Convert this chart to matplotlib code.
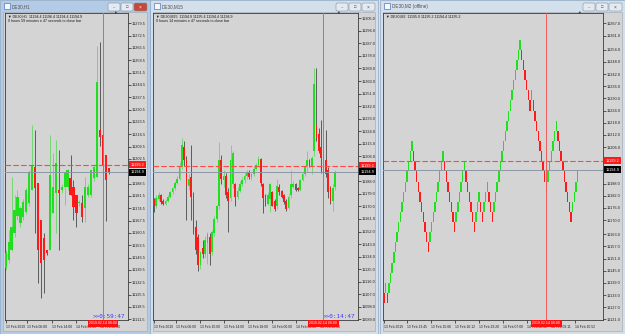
import matplotlib.pyplot as plt
from matplotlib.patches import Rectangle, FancyBboxPatch

W, H = 625, 334
plt.rcParams['font.family'] = ['Liberation Sans', 'DejaVu Sans']

GREEN = '#1fe01f'
RED = '#ff1a1a'
BG = '#d4d4d4'

# ---- DE30,H1 candles ----
h1_open = [11140.4, 11145.2, 11150.8, 11160.3, 11170.0, 11166.0, 11169.8, 11172.6, 11177.3, 11184.9,
           11198.1, 11188.7, 11167.9, 11157.5, 11150.8, 11150.8, 11171.6, 11183.0, 11184.9, 11184.9,
           11186.8, 11186.8, 11191.5, 11186.8, 11182.1, 11177.3, 11177.3, 11174.5, 11182.1, 11182.1,
           11191.5, 11192.5, 11218.9, 11216.1, 11204.8, 11197.2]
h1_high = [11150.8, 11162.2, 11192.5, 11182.1, 11185.0, 11176.0, 11180.0, 11186.0, 11196.0, 11221.8,
           11218.9, 11188.7, 11168.0, 11160.3, 11151.0, 11216.1, 11205.7, 11213.3, 11207.6, 11188.0,
           11195.3, 11197.0, 11204.8, 11190.6, 11182.1, 11179.0, 11182.1, 11192.5, 11188.0, 11196.2,
           11199.0, 11266.3, 11269.1, 11226.5, 11204.8, 11197.2]
h1_low = [11139.5, 11143.3, 11150.0, 11158.4, 11168.0, 11164.0, 11168.0, 11171.0, 11176.0, 11184.9,
          11160.3, 11131.9, 11123.4, 11126.3, 11148.0, 11150.8, 11171.6, 11160.3, 11150.8, 11183.0,
          11176.4, 11185.0, 11182.1, 11167.9, 11164.1, 11176.0, 11166.9, 11166.9, 11181.0, 11181.1,
          11190.0, 11192.5, 11210.0, 11188.7, 11167.0, 11194.0]
h1_close = [11148.9, 11155.6, 11164.1, 11173.5, 11181.1, 11174.5, 11178.3, 11184.9, 11194.4, 11199.1,
            11185.9, 11150.8, 11143.3, 11145.2, 11149.0, 11193.4, 11186.8, 11200.0, 11183.0, 11186.8,
            11194.4, 11196.2, 11182.1, 11175.4, 11171.6, 11178.3, 11169.8, 11186.8, 11186.8, 11196.2,
            11198.1, 11246.4, 11215.2, 11199.1, 11190.6, 11194.9]

# ---- DE30,M15 candles ----
m15_open = [11174.5, 11170, 11175, 11178, 11174, 11172, 11174, 11177, 11180, 11183,
            11187, 11190, 11199, 11213, 11203, 11185, 11191, 11177, 11155, 11148,
            11128, 11140, 11136, 11144, 11148, 11137, 11151, 11161, 11170, 11203,
            11189, 11192, 11180, 11176, 11186, 11186, 11177, 11181, 11186, 11189,
            11192, 11194, 11191, 11193, 11197, 11200, 11204, 11186, 11177, 11172,
            11175, 11180, 11174, 11170, 11184, 11181, 11178, 11174, 11169, 11178,
            11184, 11186, 11183, 11182, 11189, 11193, 11199, 11203, 11198, 11210,
            11228, 11222, 11213, 11208, 11203, 11196, 11183, 11174, 11184]
m15_high = [11176, 11178, 11180, 11179, 11175, 11175, 11178, 11181, 11184, 11188,
            11192, 11202, 11219, 11217, 11206, 11193, 11214, 11180, 11160, 11150,
            11138, 11146, 11149, 11152, 11151, 11153, 11163, 11171, 11216, 11207,
            11196, 11194, 11183, 11214, 11210, 11187, 11184, 11188, 11191, 11194,
            11196, 11196, 11194, 11199, 11201, 11206, 11205, 11187, 11179, 11180,
            11187, 11181, 11175, 11190, 11186, 11182, 11179, 11175, 11179, 11196,
            11188, 11187, 11184, 11190, 11194, 11200, 11210, 11204, 11206, 11269,
            11269, 11226, 11232, 11211, 11225, 11198, 11185, 11186, 11196]
m15_low = [11166, 11169, 11174, 11172, 11171, 11171, 11173, 11176, 11179, 11182,
           11186, 11189, 11197, 11199, 11160, 11182, 11160, 11150, 11136, 11124,
           11125, 11133, 11134, 11129, 11128, 11135, 11149, 11159, 11168, 11186,
           11184, 11176, 11152, 11174, 11183, 11170, 11175, 11180, 11185, 11187,
           11190, 11190, 11189, 11192, 11196, 11199, 11185, 11165, 11170, 11171,
           11166, 11170, 11167, 11168, 11178, 11176, 11172, 11167, 11168, 11176,
           11183, 11181, 11181, 11181, 11188, 11192, 11195, 11198, 11193, 11206,
           11217, 11208, 11194, 11182, 11191, 11176, 11172, 11167, 11182]
m15_close = [11170, 11176, 11178, 11173, 11172, 11174, 11177, 11180, 11183, 11187,
             11190, 11199, 11214, 11203, 11185, 11190, 11177, 11151, 11139, 11128,
             11137, 11136, 11146, 11150, 11136, 11152, 11161, 11170, 11203, 11190,
             11192, 11178, 11174, 11203, 11208, 11177, 11181, 11186, 11189, 11192,
             11194, 11191, 11193, 11197, 11200, 11204, 11187, 11176, 11172, 11178,
             11186, 11170, 11168, 11185, 11180, 11177, 11173, 11168, 11177, 11186,
             11186, 11182, 11182, 11189, 11193, 11199, 11203, 11199, 11205, 11258,
             11219, 11210, 11205, 11200, 11193, 11180, 11174, 11183, 11195]

# ---- DE30,M2 (offline) renko bricks: close of each brick ----
renko_brick = 5
renko_prev = 11134
renko_close = [11129, 11139, 11129, 11139, 11144, 11149, 11154, 11159, 11164, 11169, 11174, 11179,
               11184, 11189, 11194, 11199, 11204, 11209,
               11199, 11194, 11189, 11184, 11179, 11174, 11169, 11164, 11159, 11154,
               11164, 11169, 11174, 11179, 11184, 11189, 11194, 11199, 11204,
               11194, 11189, 11184, 11179, 11174, 11169, 11164,
               11174, 11179, 11184, 11189, 11194, 11199,
               11189, 11184, 11179, 11174, 11169, 11164,
               11174, 11179, 11184,
               11174, 11169,
               11179, 11184, 11189,
               11179, 11174, 11169,
               11179, 11184, 11189, 11194, 11199, 11204, 11209, 11214, 11219, 11224, 11229,
               11234, 11239, 11244, 11249, 11254, 11259,
               11249, 11244, 11239, 11234, 11229, 11224,
               11234,
               11224, 11219, 11214, 11209, 11204, 11199, 11194, 11189, 11184,
               11194, 11199, 11204, 11209, 11214, 11219,
               11209, 11204, 11199, 11194, 11189, 11184, 11179, 11174, 11169,
               11179, 11184, 11189, 11194]

# price scale labels
h1_ticks = [11279.5, 11272.5, 11265.5, 11258.5, 11251.5, 11244.5, 11237.5, 11230.5, 11223.5, 11216.5,
            11209.5, 11202.5, 11188.5, 11181.5, 11174.5, 11167.5, 11160.5, 11153.5, 11146.5, 11139.5,
            11132.5, 11125.5, 11118.5, 11111.5]
m15_ticks = [11305.0, 11296.0, 11287.0, 11278.0, 11269.0, 11260.0, 11251.0, 11242.0, 11233.0, 11224.0,
             11215.0, 11206.0, 11188.0, 11179.0, 11170.0, 11161.0, 11152.0, 11143.0, 11134.0, 11125.0,
             11116.0, 11107.0, 11098.0, 11089.0]
m2_ticks = [11267.0, 11261.0, 11254.0, 11248.0, 11242.0, 11236.0, 11230.0, 11224.0, 11218.0, 11212.0,
            11206.0, 11188.0, 11182.0, 11176.0, 11170.0, 11163.0, 11157.0, 11151.0, 11145.0, 11139.0,
            11133.0, 11127.0, 11121.0]

# time scale labels (bar index where label starts)
h1_time_pos = [0, 7.2, 15.7, 23.8, 32]
h1_time_lbl = ['13 Feb 2019', '13 Feb 06:00', '13 Feb 14:00', '14 Feb 00:00', '14 Feb 08:00']
m15_time_pos = [0, 9.5, 19.8, 30.2, 40.5, 50.9, 61.2, 71.6]
m15_time_lbl = ['13 Feb 2019', '13 Feb 06:00', '13 Feb 10:00', '13 Feb 14:00', '13 Feb 18:00',
                '14 Feb 00:00', '14 Feb 04:00', '14 Feb 08:00']
m2_time_pos = [0, 14.0, 28.7, 43.3, 57.9, 72.6, 87.2, 101.8, 116.5]
m2_time_lbl = ['13 Feb 2019', '13 Feb 13:45', '13 Feb 15:06', '13 Feb 16:12', '13 Feb 23:20',
               '14 Feb 07:00', '14 Feb 08:02', '14 Feb 09:11', '14 Feb 10:52']

ask_line = 11199.2
bid_line = 11194.9

fig = plt.figure(figsize=(W / 100, H / 100), dpi=100)
fig.patch.set_facecolor('#d6e1ec')
bg = fig.add_axes([0, 0, 1, 1])
bg.set_xlim(0, W)
bg.set_ylim(H, 0)
bg.axis('off')


def draw_window(x0, x1, title, active):
    frame = '#b3cbe6' if active else '#d3dfeb'
    bg.add_patch(Rectangle((x0, 0), x1 - x0, H, fc=frame, ec='#8fa6c2', lw=0.5))
    bg.add_patch(Rectangle((x0 + 3, 12), x1 - x0 - 6, H - 15, fc=BG, ec='#9aa6b2', lw=0.4))
    bg.add_patch(Rectangle((x0 + 3.5, 3), 6, 6, fc='#f4f8fc', ec='#4f7bb8', lw=0.5))
    bg.text(x0 + 12, 6.5, title, fontsize=3.3, color='#505050', va='center')
    for bx, bw in [(x1 - 42, 12), (x1 - 29, 12), (x1 - 16, 13)]:
        fc = '#c8473b' if (active and bw == 13) else '#e4eaf1'
        bg.add_patch(FancyBboxPatch((bx, 3), bw, 8, boxstyle='round,pad=0,rounding_size=1.5',
                                    fc=fc, ec='#7f8fa3', lw=0.4))
    mk = '#ffffff' if active else '#4a4a4a'
    bg.text(x1 - 36, 7.5, '–', fontsize=3, ha='center', va='center', color='#4a4a4a')
    bg.text(x1 - 23, 7, '□', fontsize=3, ha='center', va='center', color='#4a4a4a')
    bg.text(x1 - 9.5, 7, '×', fontsize=3.5, ha='center', va='center', color=mk)


def chart_axes(x0, x1, xlim, ylim):
    ax = fig.add_axes([x0 / W, 1 - 320 / H, (x1 - x0) / W, (320 - 13) / H])
    ax.set_facecolor(BG)
    ax.set_xlim(*xlim)
    ax.set_ylim(*ylim)
    for s in ax.spines.values():
        s.set_color('#3a3a3a')
        s.set_linewidth(0.6)
    return ax


def price_scale(ax, ticks):
    ax.yaxis.tick_right()
    ax.set_yticks(ticks)
    ax.set_yticklabels([f'{t:.1f}' for t in ticks])
    ax.tick_params(axis='y', direction='out', length=2, width=0.5, pad=1,
                   labelsize=2.8, colors='#202020')


def time_scale(ax, pos, labels):
    ax.set_xticks(pos)
    ax.set_xticklabels(labels)
    for lbl in ax.get_xticklabels():
        lbl.set_ha('left')
    ax.tick_params(axis='x', direction='out', length=2.5, width=0.5, pad=0.8,
                   labelsize=2.4, colors='#202020')


def draw_candles(ax, o, h, l, c, width):
    x = range(len(o))
    up = [cc >= oo for oo, cc in zip(o, c)]
    ax.vlines(x, l, h, colors=['#59d859' if u else '#3c3c3c' for u in up], lw=0.55, zorder=2)
    ax.bar(x, [max(abs(cc - oo), 0.7) for oo, cc in zip(o, c)],
           bottom=[min(oo, cc) for oo, cc in zip(o, c)], width=width,
           color=[GREEN if u else RED for u in up], lw=0, zorder=3)


def draw_renko(ax, closes, prev, brick, width):
    opens, cols = [], []
    for cl in closes:
        up = cl > prev
        opens.append(cl - brick if up else cl + brick)
        cols.append(GREEN if up else RED)
        prev = cl
    ax.bar(range(len(closes)), [c - o for o, c in zip(opens, closes)], bottom=opens,
           width=width, color=cols, lw=0, zorder=3)


def overlays(ax, vx, header, countdown, ask_txt, bid_txt, vtime, shift):
    ax.axhline(ask_line, color='#ff4a4a', lw=0.8, ls=(0, (5, 2)), zorder=4)
    ax.axhline(bid_line, color='#8c98a4', lw=0.7, zorder=4)
    ax.axvline(vx, color='#f05a5a', lw=0.7, zorder=4)
    for j, line in enumerate(header):
        ax.annotate(line, xy=(0, 1), xycoords='axes fraction', xytext=(3, -1.5 - 5 * j),
                    textcoords='offset pixels', fontsize=2.6, va='top', ha='left', color='#151515')
    ax.annotate('▼', xy=(shift, 1), xycoords='axes fraction', ha='center', va='center',
                fontsize=2.6, color='#303030', annotation_clip=False)
    if countdown:
        ax.annotate(countdown, xy=(1, 0), xycoords='axes fraction', xytext=(-3, 1.5),
                    textcoords='offset pixels', ha='right', va='bottom', fontsize=4.3,
                    family='DejaVu Sans Mono', color='#3c3cff')
    for txt, val, fc in [(ask_txt, ask_line, '#ff1a1a'), (bid_txt, bid_line, '#000000')]:
        ax.annotate(txt, xy=(1, val), xycoords=('axes fraction', 'data'), xytext=(2.5, 0),
                    textcoords='offset pixels', ha='left', va='center', fontsize=2.8,
                    color='white', annotation_clip=False, zorder=6,
                    bbox=dict(boxstyle='square,pad=0.35', fc=fc, ec='none'))
    ax.annotate(vtime, xy=(vx, 0), xycoords=('data', 'axes fraction'), xytext=(0, -1.5),
                textcoords='offset pixels', ha='center', va='top', fontsize=2.5, color='white',
                annotation_clip=False, zorder=6,
                bbox=dict(boxstyle='square,pad=0.35', fc='#ff1010', ec='none'))


draw_window(0, 150, 'DE30,H1', True)
draw_window(150, 378, 'DE30,M15', False)
draw_window(380, 625, 'DE30,M2 (offline)', False)

# H1
ax1 = chart_axes(5, 128, (-0.24, 41.5), (11111.1, 11285.3))
draw_candles(ax1, h1_open, h1_high, h1_low, h1_close, 0.75)
price_scale(ax1, h1_ticks)
time_scale(ax1, h1_time_pos, h1_time_lbl)
overlays(ax1, 33, ['▼ DE30,H1  11194.4 11196.4 11194.4 11194.9',
                   '0 hours 59 minutes e 47 seconds to close bar'],
         '>>0:59:47', '11199.2', '11194.9', '2019.02.14 08:00', 0.894)

# M15
ax2 = chart_axes(153, 358, (-0.43, 87.9), (11088.5, 11308.8))
draw_candles(ax2, m15_open, m15_high, m15_low, m15_close, 0.75)
price_scale(ax2, m15_ticks)
time_scale(ax2, m15_time_pos, m15_time_lbl)
overlays(ax2, 73.0, ['▼ DE30,M15  11194.9 11195.4 11194.4 11194.9',
                     '0 hours 14 minutes e 47 seconds to close bar'],
         '>>0:14:47', '11199.2', '11194.9', '2019.02.14 08:00', 0.902)

# M2 renko
ax3 = chart_axes(383, 603, (-0.6, 133.5), (11120.7, 11272.1))
draw_renko(ax3, renko_close, renko_prev, renko_brick, 0.85)
price_scale(ax3, m2_ticks)
time_scale(ax3, m2_time_pos, m2_time_lbl)
overlays(ax3, 99, ['▼ DE30,M2  11195.0 11195.2 11194.4 11195.2'],
         None, '11199.2', '11194.9', '2019.02.14 08:00', 0.891)

fig.savefig('out.png', dpi=100)
